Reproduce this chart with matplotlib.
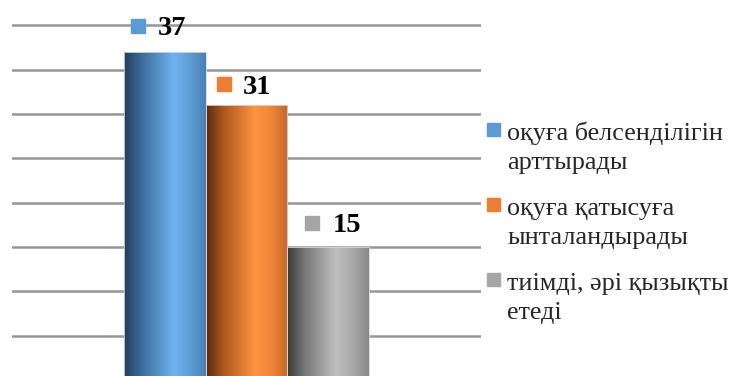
import numpy as np
import matplotlib
matplotlib.use("Agg")
import matplotlib.pyplot as plt
from matplotlib.colors import LinearSegmentedColormap
from matplotlib.transforms import offset_copy
from matplotlib.patches import Rectangle

# survey answers
labels = ["оқуға белсенділігін\nарттырады",
          "оқуға қатысуға\nынталандырады",
          "тиімді, әрі қызықты\nетеді"]
values = [37, 31, 15]
key_colors = ["#5b9bd5", "#ed7d31", "#a5a5a5"]

# dark edge -> highlight -> mid tone, like the shaded office bars
gradients = [
    ["#233d59", "#3d6c9a", "#6db2ef", "#5f9fd8", "#4a7fb3"],
    ["#5a2a0e", "#b0581e", "#ff9442", "#ef8537", "#c5672a"],
    ["#3a3a3a", "#787878", "#bfbfbf", "#aaaaaa", "#888888"],
]
stops = [0.0, 0.22, 0.6, 0.8, 1.0]

# label offsets in pixels (square x, text x, y above bar)
label_dx = [(-27, -7, 26), (-23, -4, 21), (-16, 4, 24)]

serif = ["Liberation Serif", "DejaVu Serif"]

fig = plt.figure(figsize=(7.34, 3.76), dpi=100)
ax = fig.add_axes([12 / 734, 0, 469 / 734, 1])

x = np.arange(len(values)) - 1.0
bars = ax.bar(x, values, width=1.0, color="none", edgecolor="#d8d8d8",
              linewidth=0.6, zorder=3)

for bar, cols in zip(bars, gradients):
    cmap = LinearSegmentedColormap.from_list("g", list(zip(stops, cols)))
    grad = np.linspace(0, 1, 256).reshape(1, -1)
    x0, y0 = bar.get_x(), bar.get_y()
    im = ax.imshow(grad, cmap=cmap, aspect="auto", zorder=2,
                   extent=(x0, x0 + bar.get_width(), y0, y0 + bar.get_height()),
                   interpolation="bilinear")
    im.set_clip_path(bar)

ax.set_xlim(-2.86, 2.86)
ax.set_ylim(0.45, 42.84)
ax.set_yticks(np.arange(5, 45, 5))
ax.yaxis.grid(True, color="#969696", linewidth=1.8, zorder=0)
ax.set_axisbelow(True)
ax.tick_params(left=False, bottom=False, labelleft=False, labelbottom=False)
for s in ax.spines.values():
    s.set_visible(False)

# value labels with colour key
for xi, v, c, (sq, tx, dy) in zip(x, values, key_colors, label_dx):
    ax.plot([xi], [v], marker="s", markersize=9.5, color=c, zorder=4,
            transform=offset_copy(ax.transData, fig, x=sq, y=dy, units="dots"))
    ax.text(xi, v, str(v), fontsize=20.5, fontweight="bold", family=serif,
            ha="left", va="center", zorder=4,
            transform=offset_copy(ax.transData, fig, x=tx, y=dy - 3, units="dots"))

# legend on the right, key square level with the first line
for i, (lab, c) in enumerate(zip(labels, key_colors)):
    yc = 129 + 75 * i
    fig.patches.append(Rectangle((487 / 734, 1 - (yc + 6.5) / 376), 13 / 734, 13 / 376,
                                 transform=fig.transFigure, color=c, figure=fig))
    for j, line in enumerate(lab.split("\n")):
        fig.text(507 / 734, 1 - (yc + 11 + 29 * j) / 376, line, fontsize=18.8,
                 family=serif, ha="left", va="baseline", color="#262626")

fig.savefig("out.png", dpi=100)
